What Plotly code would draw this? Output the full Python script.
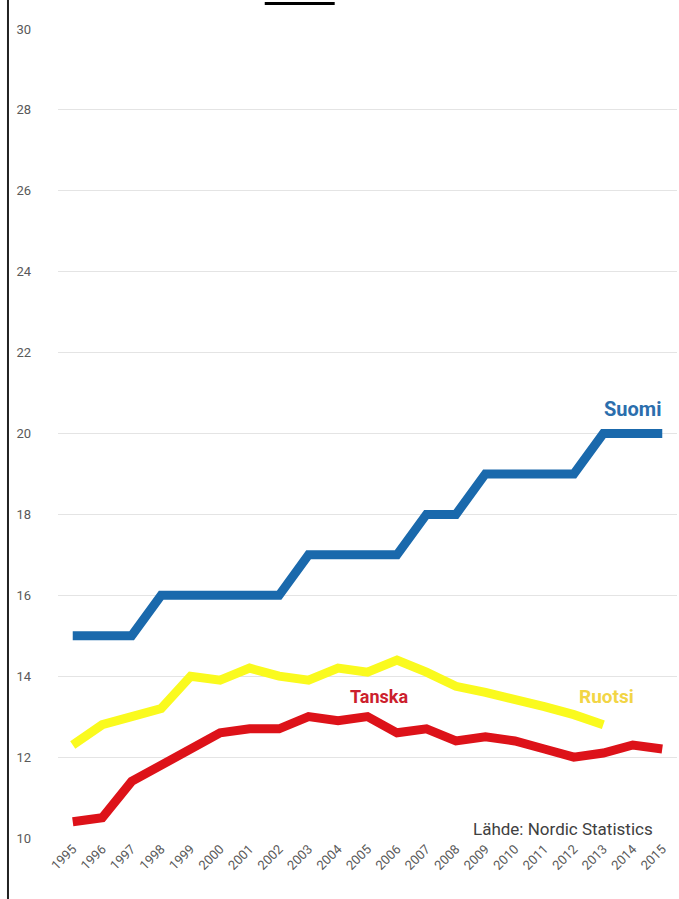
import plotly.graph_objects as go

years = list(range(1995, 2016))
suomi = [15, 15, 15, 16, 16, 16, 16, 16, 17, 17, 17, 17, 18, 18, 19, 19, 19, 19, 20, 20, 20]
ruotsi_years = list(range(1995, 2014))
ruotsi = [12.3, 12.8, 13.0, 13.2, 14.0, 13.9, 14.2, 14.0, 13.9, 14.2, 14.1, 14.4, 14.1, 13.75, 13.6, 13.45, 13.25, 13.05, 12.8]
tanska = [10.4, 10.5, 11.4, 11.8, 12.2, 12.6, 12.7, 12.7, 13.0, 12.9, 13.0, 12.6, 12.7, 12.4, 12.5, 12.4, 12.2, 12.0, 12.1, 12.3, 12.2]
y_ticks = [10, 12, 14, 16, 18, 20, 22, 24, 26, 28, 30]

FONT = "Liberation Sans Narrow, Roboto, Arial Narrow, sans-serif"

fig = go.Figure()
fig.add_trace(go.Scatter(x=ruotsi_years, y=ruotsi, mode="lines", name="Ruotsi",
                         line=dict(color="#FAFA1E", width=9), hoverinfo="skip"))
fig.add_trace(go.Scatter(x=years, y=tanska, mode="lines", name="Tanska",
                         line=dict(color="#DD1219", width=9), hoverinfo="skip"))
fig.add_trace(go.Scatter(x=years, y=suomi, mode="lines", name="Suomi",
                         line=dict(color="#1A69AC", width=9), hoverinfo="skip"))

fig.add_annotation(x=2014.0, y=20.6, text="<b>Suomi</b>", showarrow=False,
                   font=dict(family=FONT, size=20, color="#2B6EAD"))
fig.add_annotation(x=2005.4, y=13.5, text="<b>Tanska</b>", showarrow=False,
                   font=dict(family=FONT, size=18, color="#CC1F2E"))
fig.add_annotation(x=2013.1, y=13.5, text="<b>Ruotsi</b>", showarrow=False,
                   font=dict(family=FONT, size=19, color="#F2D545"))
fig.add_annotation(x=0.965, xref="paper", y=10.22, xanchor="right", text="Lähde: Nordic Statistics",
                   showarrow=False, font=dict(family=FONT, size=17, color="#404040"))

# left border line and top underline (decoration from the cropped source)
fig.add_shape(type="line", xref="paper", yref="paper", x0=-0.0808, x1=-0.0808, y0=-0.08, y1=1.04,
              line=dict(color="#222222", width=2))
fig.add_shape(type="line", xref="paper", yref="paper", x0=0.334, x1=0.447, y0=1.0315, y1=1.0315,
              line=dict(color="#000000", width=3))

fig.update_layout(
    width=679, height=899,
    margin=dict(l=58, r=2, t=29, b=61),
    paper_bgcolor="white", plot_bgcolor="white",
    showlegend=False,
    font=dict(family=FONT, color="#595959"),
    xaxis=dict(range=[1994.5, 2015.5], tickvals=years, ticktext=[str(y) for y in years],
               tickangle=-45, showgrid=False, zeroline=False, showline=False,
               tickfont=dict(size=13, color="#595959"), ticks=""),
    yaxis=dict(range=[10, 30], tickvals=y_ticks, showgrid=True, gridcolor="#E4E4E4", gridwidth=1,
               zeroline=False, showline=False, tickfont=dict(size=13, color="#595959"), ticks="",
               ticklabelstandoff=26),
)

fig.write_html("out.html")
